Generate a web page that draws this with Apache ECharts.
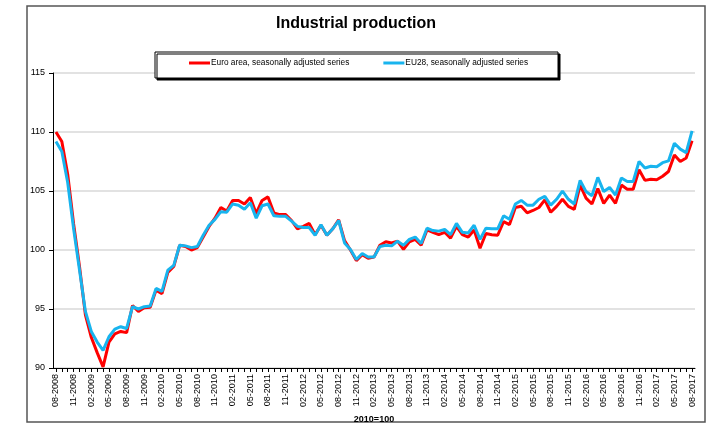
<!DOCTYPE html>
<html>
<head>
<meta charset="utf-8">
<script src="https://cdn.jsdelivr.net/npm/echarts@6/dist/echarts.min.js"></script>
<style>
html,body{margin:0;padding:0;background:#fff;}
#c{width:712px;height:435px;}
</style>
</head>
<body>
<div id="c"></div>
<script>
const categories = [];
(function(){
  let m = 8, y = 2008;
  for (let i = 0; i < 109; i++) {
    categories.push((m < 10 ? '0' + m : '' + m) + '-' + y);
    m++; if (m > 12) { m = 1; y++; }
  }
})();

const euroArea = [
  110.0,109.2,106.4,102.2,98.6,94.5,92.6,91.3,90.1,92.2,
  92.9,93.1,93.0,95.3,94.8,95.1,95.15,96.6,96.3,98.1,
  98.6,100.4,100.3,100.0,100.2,101.1,102.0,102.7,103.6,103.3,
  104.2,104.2,103.9,104.45,103.1,104.2,104.5,103.15,103.0,103.0,
  102.5,101.8,102.0,102.25,101.3,102.1,101.25,101.8,102.55,100.8,
  100.0,99.1,99.6,99.3,99.4,100.4,100.7,100.6,100.75,100.05,
  100.7,100.9,100.4,101.7,101.5,101.3,101.5,101.0,102.0,101.3,
  101.1,101.7,100.15,101.4,101.3,101.25,102.4,102.15,103.6,103.7,
  103.15,103.35,103.6,104.25,103.2,103.7,104.3,103.7,103.45,105.5,
  104.4,103.9,105.2,103.95,104.65,103.95,105.5,105.15,105.15,106.8,
  105.9,106.0,105.95,106.25,106.65,108.05,107.5,107.8,109.25
];
const eu28 = [
  109.2,108.35,105.7,101.8,98.3,94.8,93.1,92.2,91.5,92.65,
  93.3,93.5,93.35,95.2,95.0,95.2,95.25,96.75,96.5,98.3,
  98.7,100.4,100.35,100.2,100.3,101.25,102.1,102.6,103.25,103.2,
  103.9,103.8,103.45,104.0,102.7,103.75,103.9,102.9,102.85,102.85,
  102.45,102.0,101.9,101.9,101.25,102.15,101.25,101.8,102.5,100.6,
  100.05,99.2,99.7,99.4,99.4,100.3,100.4,100.35,100.75,100.4,
  100.9,101.1,100.55,101.85,101.65,101.6,101.75,101.3,102.25,101.5,
  101.45,102.1,100.9,101.85,101.8,101.8,102.9,102.6,103.9,104.2,
  103.8,103.8,104.3,104.55,103.8,104.3,105.0,104.3,103.9,105.9,
  104.95,104.6,106.15,104.95,105.3,104.65,106.1,105.8,105.8,107.5,
  106.95,107.1,107.05,107.4,107.55,109.05,108.55,108.25,110.1
];
const seriesNames = ['Euro area, seasonally adjusted series', 'EU28, seasonally adjusted series'];
const yTicks = [90, 95, 100, 105, 110, 115];

const chart = echarts.init(document.getElementById('c'), null, {renderer: 'canvas'});
const FONT = '"Liberation Sans", Arial, sans-serif';
chart.setOption({
  animation: false,
  backgroundColor: '#fff',
  textStyle: {fontFamily: FONT},
  title: {
    text: 'Industrial production',
    left: 'center',
    top: 11,
    textStyle: {fontFamily: FONT, fontSize: 16, fontWeight: 'bold', color: '#000'}
  },
  graphic: [
    {
      type: 'rect', z: 0, silent: true,
      shape: {x: 27, y: 6, width: 678, height: 416},
      style: {fill: '#fff', stroke: '#555', lineWidth: 1.5}
    },
    {
      type: 'rect', z: 50, silent: true,
      shape: {x: 155, y: 52, width: 403, height: 26},
      style: {fill: '#fff', stroke: '#000', lineWidth: 1,
              shadowColor: '#000', shadowOffsetX: 2, shadowOffsetY: 2, shadowBlur: 0}
    }
  ],
  legend: {
    z: 60,
    left: 189,
    top: 59,
    itemGap: 34,
    itemWidth: 21,
    itemHeight: 3,
    icon: 'rect',
    padding: 0,
    textStyle: {fontFamily: FONT, fontSize: 8.3, color: '#000', padding: [0, 0, 0, -4]},
    data: seriesNames
  },
  grid: {left: 53, right: 17, top: 73, bottom: 67, containLabel: false},
  xAxis: {
    type: 'category',
    data: categories,
    boundaryGap: true,
    name: '2010=100',
    nameLocation: 'middle',
    nameGap: 46,
    nameTextStyle: {fontFamily: FONT, fontSize: 9, fontWeight: 'bold', color: '#000'},
    axisLine: {lineStyle: {color: '#000', width: 1}},
    axisTick: {show: true, interval: 0, alignWithLabel: true, length: 4, lineStyle: {color: '#000'}},
    axisLabel: {
      interval: 2, rotate: 90, fontSize: 9, color: '#000', margin: 6, fontFamily: FONT
    },
    splitLine: {show: false}
  },
  yAxis: {
    type: 'value',
    min: yTicks[0],
    max: yTicks[yTicks.length - 1],
    interval: 5,
    axisLine: {show: true, lineStyle: {color: '#000', width: 1}},
    axisTick: {show: true, length: 4, lineStyle: {color: '#000'}},
    axisLabel: {fontSize: 9, color: '#000', margin: 8, fontFamily: FONT},
    splitLine: {show: true, lineStyle: {color: '#D9D9D9', width: 1.5}}
  },
  series: [
    {
      name: seriesNames[0], type: 'line', data: euroArea,
      showSymbol: false, symbol: 'none', z: 2,
      lineStyle: {color: '#FF0000', width: 3},
      itemStyle: {color: '#FF0000'}
    },
    {
      name: seriesNames[1], type: 'line', data: eu28,
      showSymbol: false, symbol: 'none', z: 3,
      lineStyle: {color: '#18B4EE', width: 3},
      itemStyle: {color: '#18B4EE'}
    }
  ]
});
</script>
</body>
</html>
